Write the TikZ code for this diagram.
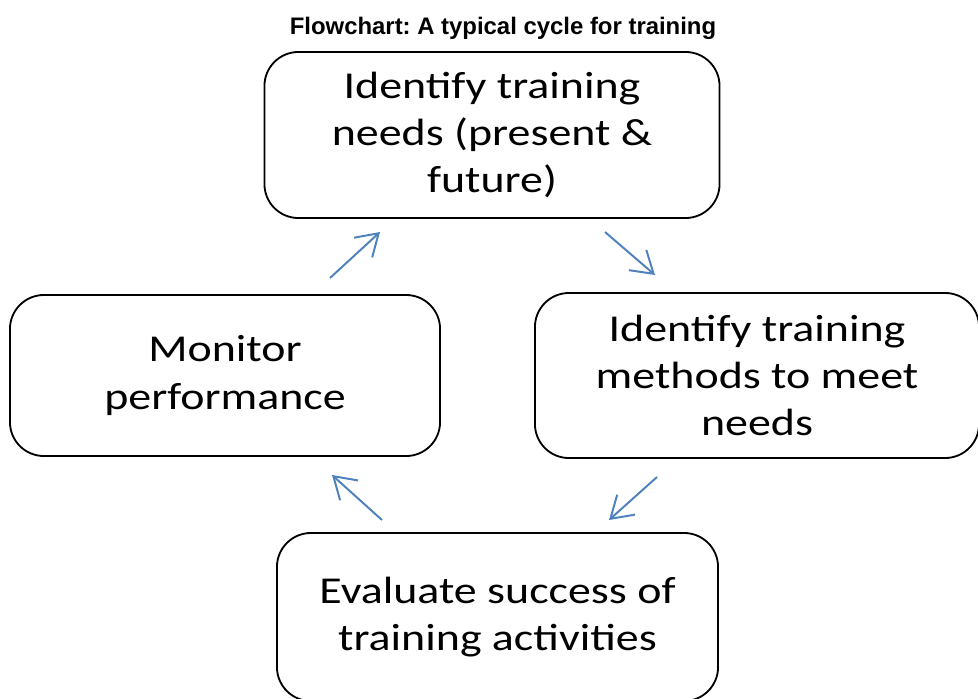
\documentclass[tikz,border=0pt]{standalone}
\usepackage{fontspec}
\setmainfont[FakeStretch=1.21]{Carlito}
\newfontfamily\titlefont{Liberation Sans}
\usetikzlibrary{arrows.meta}
\definecolor{cycBlue}{RGB}{79,129,189}
\tikzset{
    stage/.style={rectangle, rounded corners=0.85cm, draw=black, line width=1.3pt, fill=white, align=center, font=\fontsize{27}{33.5}\selectfont},
    flow/.style={-{Straight Barb[length=15pt,width=19pt,line width=1.4pt]}, line width=1.4pt, cycBlue}
}
\begin{document}
\frenchspacing
\begin{tikzpicture}[x=0.025cm,y=-0.025cm]
    \useasboundingbox (0,0) rectangle (978,698);

    % Title
    \node (title) at (503,28) {\titlefont\bfseries\fontsize{17}{19}\selectfont Flowchart: A typical cycle for training};

    % Four stages of the cycle
    \node[stage, minimum width=11.375cm, minimum height=4.15cm] (needs) at (492,135) {Identify training\\needs (present \&\\future)};
    \node[stage, minimum width=11.1cm, minimum height=4.125cm] (methods) at (757,375.5) {Identify training\\methods to meet\\needs};
    \node[stage, minimum width=11.025cm, minimum height=4.2cm] (evaluate) at (497.5,617) {Evaluate success of\\training activities};
    \node[stage, minimum width=10.75cm, minimum height=4.025cm] (monitor) at (225,375.5) {Monitor\\performance};

    % Arrow end points between the boxes
    \coordinate (a1s) at (605,232);  \coordinate (a1e) at (655,275);
    \coordinate (a2s) at (657,477);  \coordinate (a2e) at (609,520);
    \coordinate (a3s) at (382,520);  \coordinate (a3e) at (332,475);
    \coordinate (a4s) at (330,278);  \coordinate (a4e) at (380,232);

    % Cycle arrows
    \draw[flow] (a1s) -- (a1e);
    \draw[flow] (a2s) -- (a2e);
    \draw[flow] (a3s) -- (a3e);
    \draw[flow] (a4s) -- (a4e);
\end{tikzpicture}
\end{document}
